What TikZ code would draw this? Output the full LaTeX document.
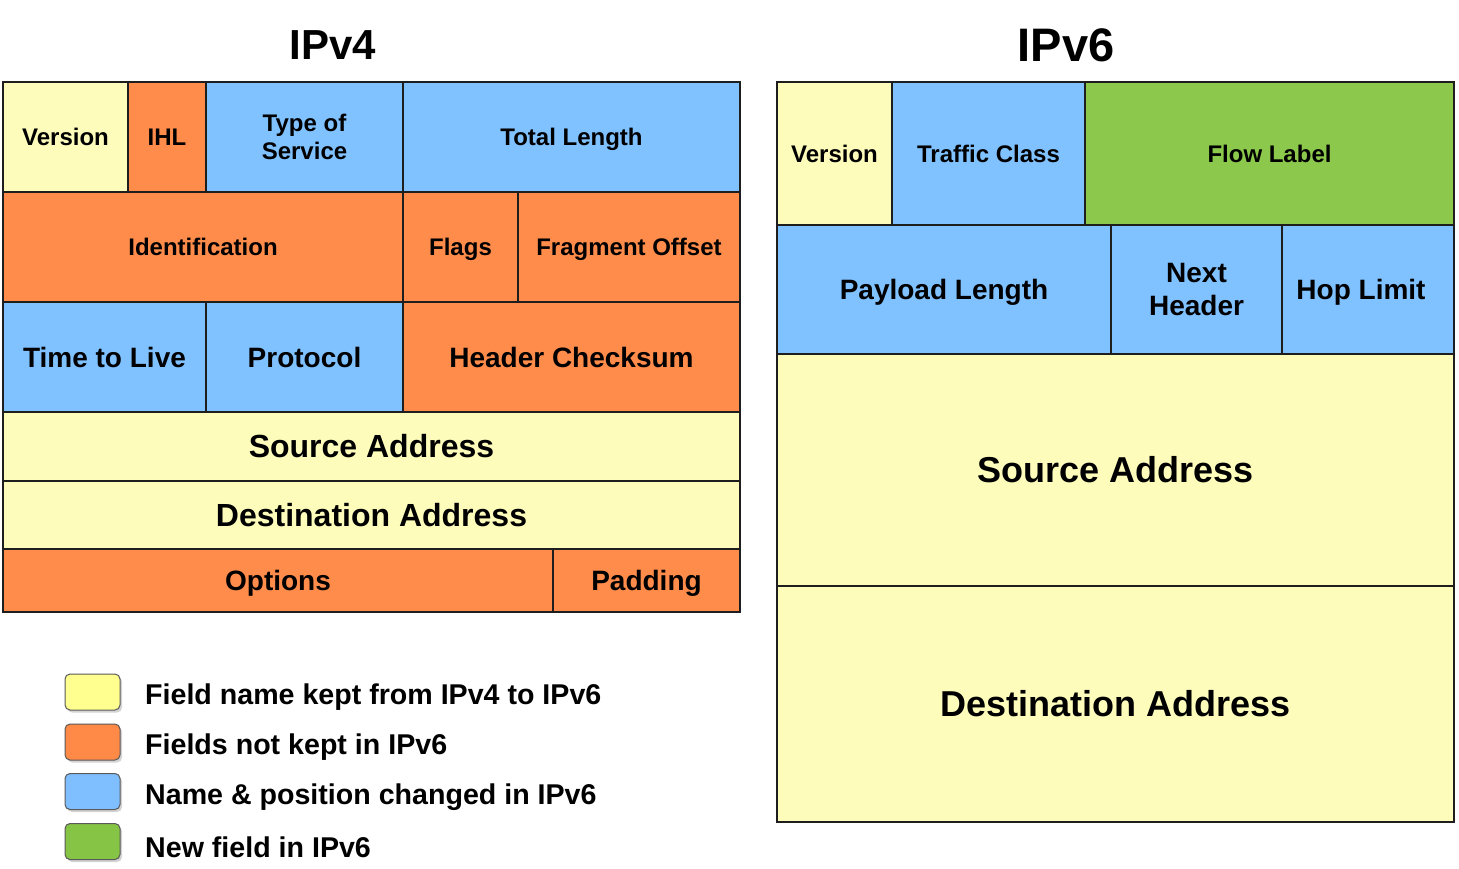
\documentclass[tikz,border=0pt]{standalone}
\usepackage{fontspec}
\setmainfont{Liberation Sans}
\usetikzlibrary{shadows}
\definecolor{cyel}{HTML}{FDFCBB}
\definecolor{cora}{HTML}{FF8C4B}
\definecolor{cblu}{HTML}{80C1FF}
\definecolor{cgrn}{HTML}{8CC84B}
\definecolor{lyel}{HTML}{FFFF8F}
\definecolor{lora}{HTML}{FF8A47}
\definecolor{lblu}{HTML}{7FBFFF}
\definecolor{lgrn}{HTML}{85C444}
\definecolor{cline}{HTML}{1E1E1E}
\newcommand\fsz[1]{\fontsize{#1pt}{1.15\dimexpr#1pt\relax}\selectfont}
\newcommand\fcell[9][]{%
  \pgfmathsetmacro\capht{0.716*#7}%
  \node[cell,fill=#8,font=\bfseries\fsz{#7},minimum width={#5-#3},minimum height={#6-#4},
    text height=\capht pt,text depth=0pt,#1]
    (#2) at ({(#3+#5)/2},{(#4+#6)/2}) {#9};}
\tikzset{
  cell/.style={draw=cline,line width=2pt,inner sep=0pt,outer sep=0pt,
    text=black,align=center},
  multi/.style={text height={},text depth={}},
  title/.style={text=black,inner sep=0pt},
  swatch/.style={draw=gray!70!black,line width=1pt,rounded corners=5pt,
    minimum width=55,minimum height=36,inner sep=0pt,
    drop shadow={opacity=0.35,shadow xshift=2pt,shadow yshift=-2.5pt}},
  legtext/.style={anchor=west,font=\bfseries\fsz{28.6},inner sep=0pt,text=black}
}
\begin{document}
\begin{tikzpicture}[x=1pt,y=-1pt]
\useasboundingbox (0,0) rectangle (1459,868);
% titles
\node[title,font=\bfseries\fsz{42}] (t4) at (333,45) {IPv4};
\node[title,font=\bfseries\fsz{47}] (t6) at (1066,45) {IPv6};
% IPv4
\fcell{v4ver}{3}{82}{128}{192}{24}{cyel}{Version}
\fcell{v4ihl}{128}{82}{206}{192}{24}{cora}{IHL}
\fcell[multi]{v4tos}{206}{82}{403}{192}{24}{cblu}{Type of\\Service}
\fcell{v4tl}{403}{82}{740}{192}{24}{cblu}{Total Length}
\fcell{v4id}{3}{192}{403}{302}{24}{cora}{Identification}
\fcell{v4fl}{403}{192}{518}{302}{24}{cora}{Flags}
\fcell{v4fo}{518}{192}{740}{302}{24}{cora}{Fragment Offset}
\fcell{v4ttl}{3}{302}{206}{412}{28}{cblu}{Time to Live}
\fcell{v4pr}{206}{302}{403}{412}{28}{cblu}{Protocol}
\fcell{v4hc}{403}{302}{740}{412}{28}{cora}{Header Checksum}
\fcell{v4sa}{3}{412}{740}{481}{32}{cyel}{Source Address}
\fcell{v4da}{3}{481}{740}{549}{32}{cyel}{Destination Address}
\fcell{v4op}{3}{549}{553}{612}{28}{cora}{Options}
\fcell{v4pa}{553}{549}{740}{612}{28}{cora}{Padding}
% IPv6
\fcell{v6ver}{777}{82}{892}{225}{24}{cyel}{Version}
\fcell{v6tc}{892}{82}{1085}{225}{24}{cblu}{Traffic Class}
\fcell{v6fl}{1085}{82}{1454}{225}{24}{cgrn}{Flow Label}
\fcell{v6pl}{777}{225}{1111}{354}{28}{cblu}{Payload Length}
\fcell[multi]{v6nh}{1111}{225}{1282}{354}{28}{cblu}{Next\\Header}
\fcell{v6hl}{1282}{225}{1454}{354}{28}{cblu}{Hop Limit\hspace*{14pt}}
\fcell{v6sa}{777}{354}{1454}{586}{36}{cyel}{Source Address}
\fcell{v6da}{777}{586}{1454}{822}{36}{cyel}{Destination Address}
% legend
\node[swatch,fill=lyel] (s1) at (92.5,692) {};
\node[swatch,fill=lora] (s2) at (92.5,742) {};
\node[swatch,fill=lblu] (s3) at (92.5,791.5) {};
\node[swatch,fill=lgrn] (s4) at (92.5,841.5) {};
\node[legtext] (l1) at (145,697) {Field name kept from IPv4 to IPv6};
\node[legtext] (l2) at (145,747) {Fields not kept in IPv6};
\node[legtext] (l3) at (145,797) {Name \& position changed in IPv6};
\node[legtext] (l4) at (145,847) {New field in IPv6};
\end{tikzpicture}
\end{document}
